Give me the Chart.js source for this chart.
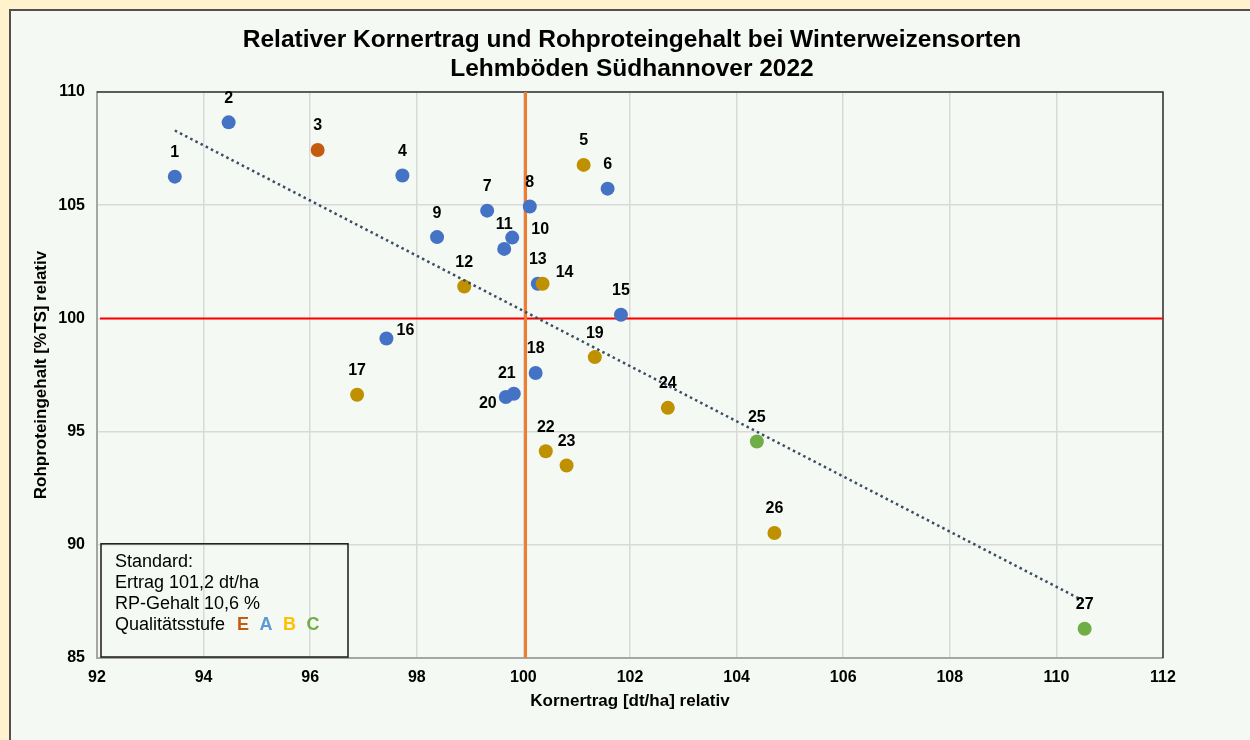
<!DOCTYPE html>
<html>
<head>
<meta charset="utf-8">
<title>Relativer Kornertrag und Rohproteingehalt bei Winterweizensorten</title>
<script src="https://cdn.jsdelivr.net/npm/chart.js@4.4.0/dist/chart.umd.min.js"></script>
<style>
  html, body { margin: 0; padding: 0; background: #FFF2CC; }
  #wrap { width: 1250px; height: 740px; position: relative; }
</style>
</head>
<body>
<div id="wrap"><canvas id="ertragChart" width="1250" height="740"></canvas></div>
<script>
// Sorten (Nummer), relativer Kornertrag, relativer RP-Gehalt, Qualitätsstufe
var sorten = [1, 2, 3, 4, 5, 6, 7, 8, 9, 10, 11, 12, 13, 14, 15, 16, 17, 18, 19, 20, 21, 22, 23, 24, 25, 26, 27];
var ertrag = [93.46, 94.47, 96.14, 97.73, 101.13, 101.58, 99.32, 100.12, 98.38, 99.79, 99.64, 98.89, 100.27, 100.36,
              101.83, 97.43, 96.88, 100.23, 101.34, 99.67, 99.82, 100.42, 100.81, 102.71, 104.38, 104.71, 110.53];
var protein = [106.26, 108.66, 107.44, 106.31, 106.78, 105.73, 104.76, 104.94, 103.59, 103.57, 103.07, 101.41, 101.53, 101.53,
               100.16, 99.11, 96.63, 97.59, 98.29, 96.53, 96.67, 94.13, 93.50, 96.05, 94.56, 90.52, 86.29];
var stufe = ['A', 'A', 'E', 'A', 'B', 'A', 'A', 'A', 'A', 'A', 'A', 'B', 'A', 'B',
             'A', 'A', 'B', 'A', 'B', 'A', 'A', 'B', 'B', 'B', 'C', 'B', 'C'];

var trendX = [93.46, 110.53];
var trendY = [108.3, 87.5];

// Bezugslinien (Standard = 100)
var standardX = 100.04;
var standardY = 100;

var xTicks = [92, 94, 96, 98, 100, 102, 104, 106, 108, 110, 112];
var yTicks = [85, 90, 95, 100, 105, 110];

var titel = ['Relativer Kornertrag und Rohproteingehalt bei Winterweizensorten', 'Lehmböden Südhannover 2022'];
var standardText = ['Standard:', 'Ertrag 101,2 dt/ha', 'RP-Gehalt 10,6 %'];
var stufen = ['E', 'A', 'B', 'C'];

var FONT = '"Liberation Sans", Arial, sans-serif';
var punktFarbe = { E: '#C55A11', A: '#4472C4', B: '#BF9000', C: '#70AD47' };
var textFarbe = { E: '#C55A11', A: '#5B9BD5', B: '#FFC000', C: '#70AD47' };

// Label-Versatz fuer einzelne Sorten (Standard: ueber dem Punkt)
var labelShift = { 10: [28, -8], 14: [22, -11], 16: [19, -8], 20: [-18, 7], 21: [-7, -20] };

var punkte = sorten.map(function(s, i) { return { x: ertrag[i], y: protein[i] }; });
var trend = trendX.map(function(x, i) { return { x: x, y: trendY[i] }; });

var hintergrund = {
    id: 'hintergrund',
    beforeDraw: function(chart) {
        var c = chart.ctx;
        c.save();
        c.fillStyle = '#FFF2CC';
        c.fillRect(0, 0, chart.width, chart.height);
        c.fillStyle = '#F5F9F3';
        c.fillRect(10, 10, chart.width, chart.height);
        c.strokeStyle = '#505050';
        c.lineWidth = 2;
        c.beginPath();
        c.moveTo(10, chart.height + 5);
        c.lineTo(10, 10);
        c.lineTo(chart.width + 5, 10);
        c.stroke();
        c.restore();
    }
};

var bezugslinien = {
    id: 'bezugslinien',
    beforeDatasetsDraw: function(chart) {
        var c = chart.ctx, a = chart.chartArea;
        var xs = chart.scales.x, ys = chart.scales.y;
        c.save();
        // Rahmen oben / rechts
        c.strokeStyle = '#303030';
        c.lineWidth = 1.5;
        c.beginPath();
        c.moveTo(a.left, a.top);
        c.lineTo(a.right, a.top);
        c.lineTo(a.right, a.bottom);
        c.stroke();
        // horizontale Linie bei 100
        var y = ys.getPixelForValue(standardY);
        c.strokeStyle = '#FF0000';
        c.lineWidth = 2;
        c.beginPath();
        c.moveTo(a.left + 3, y);
        c.lineTo(a.right, y);
        c.stroke();
        // vertikale Linie bei 100
        var x = xs.getPixelForValue(standardX);
        c.strokeStyle = '#ED7D31';
        c.lineWidth = 3;
        c.beginPath();
        c.moveTo(x, a.top);
        c.lineTo(x, a.bottom);
        c.stroke();
        c.restore();
    }
};

var beschriftung = {
    id: 'beschriftung',
    afterDatasetsDraw: function(chart) {
        var c = chart.ctx, a = chart.chartArea;
        var meta = chart.getDatasetMeta(1);
        c.save();
        c.fillStyle = '#000';
        c.textAlign = 'center';
        c.textBaseline = 'middle';
        c.font = 'bold 16px ' + FONT;
        meta.data.forEach(function(p, i) {
            var off = labelShift[sorten[i]] || [0, -24];
            c.fillText(String(sorten[i]), p.x + off[0], p.y + off[1]);
        });

        // Titel
        c.font = 'bold 24.5px ' + FONT;
        c.fillText(titel[0], 632, 40);
        c.fillText(titel[1], 632, 69);

        // Standard-Kasten
        var bx = a.left + 4, by = chart.scales.y.getPixelForValue(90) - 1;
        var bw = 247, bh = a.bottom - 1 - by;
        c.strokeStyle = '#1A1A1A';
        c.lineWidth = 1.5;
        c.strokeRect(bx, by, bw, bh);
        c.textAlign = 'left';
        c.font = '18px ' + FONT;
        var tx = bx + 14, ty = by + 18;
        standardText.forEach(function(t, i) { c.fillText(t, tx, ty + i * 21.2); });
        var qy = ty + 3 * 21.2;
        c.fillText('Qualitätsstufe', tx, qy);
        var qx = tx + c.measureText('Qualitätsstufe').width + 12;
        c.font = 'bold 18px ' + FONT;
        stufen.forEach(function(s) {
            c.fillStyle = textFarbe[s];
            c.fillText(s, qx, qy);
            qx += c.measureText(s).width + 10.5;
        });
        c.restore();
    }
};

var ctx = document.getElementById('ertragChart').getContext('2d');
var ertragChart = new Chart(ctx, {
    type: 'scatter',
    data: {
        datasets: [{
            type: 'line',
            label: 'Trend',
            data: trend,
            order: 0,
            borderColor: '#3B4C63',
            borderWidth: 2.5,
            borderDash: [2.5, 3.3],
            pointRadius: 0,
            fill: false,
            tension: 0
        }, {
            label: 'Sorten',
            data: punkte,
            order: 1,
            pointRadius: 7,
            pointBorderWidth: 0,
            pointBackgroundColor: stufe.map(function(s) { return punktFarbe[s]; }),
            pointBorderColor: stufe.map(function(s) { return punktFarbe[s]; })
        }]
    },
    options: {
        responsive: false,
        animation: false,
        layout: { padding: { top: 92, right: 87, left: 0, bottom: 0 } },
        plugins: {
            legend: { display: false },
            tooltip: { enabled: false },
            title: { display: false }
        },
        scales: {
            x: {
                type: 'linear',
                min: 92,
                max: 112,
                afterFit: function(s) { s.height = 82; },
                afterBuildTicks: function(s) { s.ticks = xTicks.map(function(v) { return { value: v }; }); },
                ticks: { color: '#000', padding: 10, font: { family: FONT, size: 16, weight: 'bold' } },
                grid: { color: '#D9D9D9', lineWidth: 1.5, drawTicks: false },
                border: { color: '#A6A6A6', width: 2 },
                title: {
                    display: true,
                    text: 'Kornertrag [dt/ha] relativ',
                    color: '#000',
                    font: { family: FONT, size: 17, weight: 'bold' },
                    padding: { top: 0, bottom: 28 }
                }
            },
            y: {
                type: 'linear',
                min: 85,
                max: 110,
                afterFit: function(s) { s.width = 97; },
                afterBuildTicks: function(s) { s.ticks = yTicks.map(function(v) { return { value: v }; }); },
                ticks: { color: '#000', padding: 12, font: { family: FONT, size: 16, weight: 'bold' } },
                grid: { color: '#D9D9D9', lineWidth: 1.5, drawTicks: false },
                border: { color: '#A6A6A6', width: 2 },
                title: {
                    display: true,
                    text: 'Rohproteingehalt [%TS] relativ',
                    color: '#000',
                    font: { family: FONT, size: 17, weight: 'bold' },
                    padding: { top: 31, bottom: 0 }
                }
            }
        }
    },
    plugins: [hintergrund, bezugslinien, beschriftung]
});
</script>
</body>
</html>
